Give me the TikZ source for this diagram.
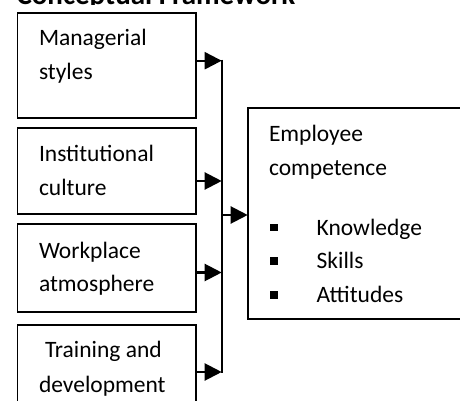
\documentclass[tikz,border=0pt]{standalone}
\usepackage{fontspec}
\setmainfont{Carlito}
\usetikzlibrary{arrows.meta}
\begin{document}
\begin{tikzpicture}[x=1pt,y=-1pt,
  every node/.style={inner sep=0pt,outer sep=0pt},
  factor/.style={draw,line width=1.9pt,rectangle,anchor=north west},
  txt/.style={anchor=base west,font=\fontsize{23.5}{34}\selectfont},
  bul/.style={fill=black,minimum size=7.5pt,anchor=center},
  link/.style={line width=2.2pt,-{Triangle[length=17pt,width=17pt]}},
  bus/.style={line width=2pt}]
\clip (0,0) rectangle (460,401);

% heading, cut off by its frame
\begin{scope}
  \clip (0,0) rectangle (460,4.5);
  \node[anchor=base west,font=\bfseries\fontsize{29}{34}\selectfont] (title) at (16.5,4.5) {Conceptual Framework};
\end{scope}

% factor boxes
\node[factor,minimum width=178.2pt,minimum height=105.3pt] (m1) at (17.5,12.7) {};
\node[factor,minimum width=178.2pt,minimum height=86pt]    (m2) at (17.5,128) {};
\node[factor,minimum width=178.2pt,minimum height=88pt]    (m3) at (17.5,224) {};
\node[factor,minimum width=178.2pt,minimum height=95pt]    (m4) at (17.5,325) {};

\node[txt] (t1a) at (39,45.7)  {Managerial};
\node[txt] (t1b) at (39,80)    {styles};
\node[txt] (t2a) at (39,161.7) {Institutional};
\node[txt] (t2b) at (39,195)   {culture};
\node[txt] (t3a) at (39,258.3) {Workplace};
\node[txt] (t3b) at (39,291.7) {atmosphere};
\node[txt] (t4a) at (45,357.3) {Training and};
\node[txt] (t4b) at (39,392.7) {development};

% outcome box
\node[factor,minimum width=222pt,minimum height=211pt] (emp) at (247.7,108) {};
\node[txt] (e1) at (269,141.7) {Employee};
\node[txt] (e2) at (269,175)   {competence};
\node[bul] (k0) at (273.8,227.5) {};
\node[bul] (s0) at (273.8,260.8) {};
\node[bul] (a0) at (273.8,295.2) {};
\node[txt] (k1) at (316.7,235)   {Knowledge};
\node[txt] (s1) at (316.7,268.3) {Skills};
\node[txt] (a1) at (316.7,302.7) {Attitudes};

% collecting line
\coordinate (b1) at (221.7,60.7);
\coordinate (b2) at (221.7,181);
\coordinate (b3) at (221.7,272.5);
\coordinate (b4) at (221.7,372);
\coordinate (b5) at (221.7,215);
\draw[bus] ([yshift=1pt]b1) -- ([yshift=-1pt]b4);

\draw[link] (m1.east |- b1) -- (b1);
\draw[link] (m2.east |- b2) -- (b2);
\draw[link] (m3.east |- b3) -- (b3);
\draw[link] (m4.east |- b4) -- (b4);
\draw[link] (b5) -- (emp.west |- b5);
\end{tikzpicture}
\end{document}
